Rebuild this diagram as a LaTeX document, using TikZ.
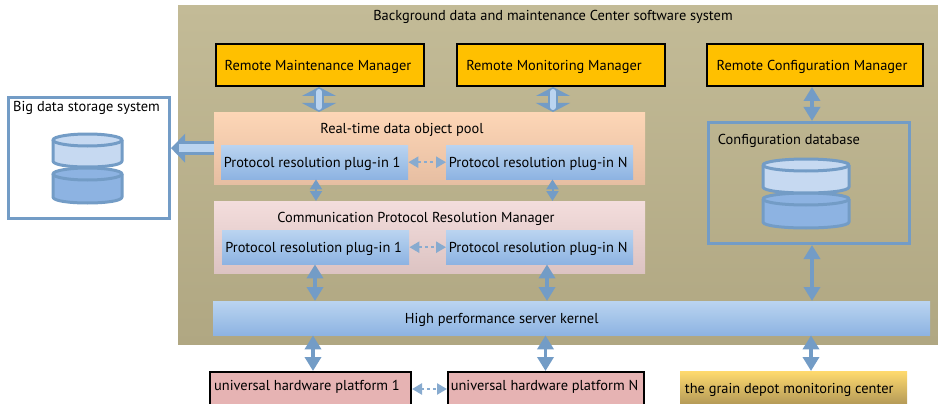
\documentclass[tikz,border=0pt]{standalone}
\usepackage{fontspec}
\setmainfont{PT Sans}
\usetikzlibrary{arrows.meta}
\definecolor{linkblue}{HTML}{739CC6}
\definecolor{diskpale}{HTML}{C6D9F1}
\definecolor{diskdark}{HTML}{8DB3E2}
\definecolor{plugtop}{HTML}{BAD4F0}
\definecolor{hwpink}{HTML}{E6B3B3}
\definecolor{mgrgold}{HTML}{FFC000}
\definecolor{bgtop}{HTML}{C3BB97}
\definecolor{bgbot}{HTML}{B0A782}
\definecolor{poolA}{HTML}{FDD6B6}
\definecolor{poolB}{HTML}{E6BEA2}
\definecolor{commA}{HTML}{F3DDDC}
\definecolor{commB}{HTML}{DCC3C2}
\definecolor{grainA}{HTML}{FFDA6E}
\definecolor{grainB}{HTML}{B49A58}
\tikzset{
  plugbox/.style={anchor=north west,minimum width=187pt,minimum height=34pt,inner sep=0pt,text height=14pt,text depth=3pt,top color=plugtop,bottom color=diskdark},
  mgrbox/.style={anchor=north west,draw=black,line width=2pt,fill=mgrgold,minimum height=42pt,inner sep=0pt,text height=14pt,text depth=3pt},
  hwbox/.style={anchor=north west,draw=black,line width=2pt,fill=hwpink,minimum height=34pt,inner sep=0pt,text height=10pt,text depth=7pt},
  framebox/.style={anchor=north west,draw=linkblue,line width=3pt,inner sep=0pt},
  lbl/.style={inner sep=0pt},
  widearrow/.style={draw=linkblue,line width=10pt,{Triangle[length=9pt,width=34pt]}-{Triangle[length=9pt,width=34pt]}},
  widecore/.style={draw=plugtop,line width=6pt,line cap=round,shorten <=5pt,shorten >=5pt},
  bigarrow/.style={draw=linkblue,line width=3.5pt,{Triangle[length=14pt,width=16pt]}-{Triangle[length=14pt,width=16pt]}},
  smallarrow/.style={draw=linkblue,line width=2pt,{Triangle[length=10pt,width=12pt]}-{Triangle[length=10pt,width=12pt]}},
  dotarrow/.style={draw=linkblue!85!white,line width=2.5pt,dash pattern=on 3pt off 3pt,{Triangle[length=10pt,width=11pt]}-{Triangle[length=10pt,width=11pt]}},
  disk/.style={draw=linkblue,line width=3pt,line join=round},
}
\begin{document}
\begin{tikzpicture}[x=1pt,y=-1pt,font=\fontsize{14.4}{16}\selectfont]
\useasboundingbox (0,0) rectangle (938,404);

% Center background
\node[anchor=north west,inner sep=0pt,minimum width=760pt,minimum height=339pt,top color=bgtop,bottom color=bgbot] (center) at (178,5) {};
\node[lbl] (centertitle) at (553,17) {Background data and maintenance Center software system};

% Managers
\node[mgrbox,minimum width=208pt] (mgrA) at (215,43) {\hspace{-4pt}Remote Maintenance Manager};
\node[mgrbox,minimum width=208pt] (mgrB) at (456,43) {\hspace{-14pt}Remote Monitoring Manager};
\node[mgrbox,minimum width=216pt] (mgrC) at (706,43) {\hspace{-6pt}Remote Configuration Manager};

% Object pool
\node[anchor=north west,inner sep=0pt,minimum width=431pt,minimum height=72pt,top color=poolA,bottom color=poolB] (pool) at (214,112) {};
\node[lbl] (pooltitle) at (402,130) {Real-time data object pool};
\node[plugbox] (plugA) at (221,145) {\hspace{-5pt}Protocol resolution plug-in 1};
\node[plugbox] (plugN) at (446,145) {\hspace{-3pt}Protocol resolution plug-in N};

% Resolution manager
\node[anchor=north west,inner sep=0pt,minimum width=431pt,minimum height=72pt,top color=commA,bottom color=commB] (comm) at (214,201) {};
\node[lbl] (commtitle) at (416,219) {Communication Protocol Resolution Manager};
\node[plugbox] (resA) at (222,230) {\hspace{-4pt}Protocol resolution plug-in 1};
\node[plugbox] (resN) at (446,230) {\hspace{-3pt}Protocol resolution plug-in N};

% Kernel
\node[plugbox,minimum width=717pt] (kernel) at (213,301) {\hspace{-140pt}High performance server kernel};

% Hardware and grain depot
\node[hwbox,minimum width=201pt] (hwA) at (209,371) {\hspace{-7pt}universal hardware platform 1};
\node[hwbox,minimum width=196pt] (hwN) at (447,371) {\hspace{-3pt}universal hardware platform N};
\node[anchor=north west,inner sep=0pt,minimum width=227pt,minimum height=33pt,text height=14pt,text depth=3pt,top color=grainA,bottom color=grainB] (grain) at (680,371) {\hspace{-9pt}the grain depot monitoring center};

% Big data storage
\node[framebox,fill=white,minimum width=161pt,minimum height=121pt] (bigdata) at (7,96) {};
\node[lbl] (bigtitle) at (86.5,108) {Big data storage system};
\draw[disk,fill=diskdark] (53,174) -- (53,197) .. controls (53,201) and (70,203) .. (87.5,203) .. controls (105,203) and (122,201) .. (122,197) -- (122,174);
\draw[disk,fill=diskdark] (87.5,174) ellipse (34.5pt and 6pt);
\draw[disk,fill=diskpale] (53,140) -- (53,161) .. controls (53,165) and (70,167) .. (87.5,167) .. controls (105,167) and (122,165) .. (122,161) -- (122,140);
\draw[disk,fill=diskpale] (87.5,140) ellipse (34.5pt and 6pt);

% Configuration database
\node[framebox,minimum width=201pt,minimum height=121pt] (config) at (707,121) {};
\node[lbl] (configtitle) at (789,141) {Configuration database};
\draw[disk,fill=diskdark] (763,199) -- (763,222) .. controls (763,226) and (785,228) .. (806,228) .. controls (827,228) and (849,226) .. (849,222) -- (849,199);
\draw[disk,fill=diskdark] (806,199) ellipse (43pt and 6pt);
\draw[disk,fill=diskpale] (763,165) -- (763,187) .. controls (763,191) and (785,193) .. (806,193) .. controls (827,193) and (849,191) .. (849,187) -- (849,165);
\draw[disk,fill=diskpale] (806,165) ellipse (43pt and 6pt);

% Connectors
\draw[widearrow] (319,0 |- mgrA.south) -- (319,0 |- pool.north);
\draw[widecore] (319,0 |- mgrA.south) -- (319,0 |- pool.north);
\draw[widearrow] (553,0 |- mgrB.south) -- (553,0 |- pool.north);
\draw[widecore] (553,0 |- mgrB.south) -- (553,0 |- pool.north);
\draw[bigarrow] (812,0 |- mgrC.south) -- (812,0 |- config.north);
\draw[draw=linkblue,line width=14pt,-{Triangle[length=14pt,width=28pt]}] (pool.west) -- (bigdata.east |- pool.west);
\draw[draw=plugtop,line width=8pt,shorten >=8pt] (pool.west) -- (bigdata.east |- pool.west);
\draw[dotarrow] (plugA.east) -- (plugN.west);
\draw[dotarrow] (resA.east) -- (resN.west);
\draw[smallarrow] (316,0 |- plugA.south) -- (316,0 |- comm.north);
\draw[smallarrow] (552.5,0 |- plugN.south) -- (552.5,0 |- comm.north);
\draw[bigarrow] (315,0 |- resA.south) -- (315,0 |- kernel.north);
\draw[bigarrow] (547,0 |- resN.south) -- (547,0 |- kernel.north);
\draw[bigarrow] (812,0 |- config.south) -- (812,0 |- kernel.north);
\draw[bigarrow] (313,0 |- kernel.south) -- (313,0 |- hwA.north);
\draw[bigarrow] (545.5,0 |- kernel.south) -- (545.5,0 |- hwN.north);
\draw[bigarrow] (811,0 |- kernel.south) -- (811,0 |- grain.north);
\draw[dotarrow] (hwA.east) -- (hwN.west);
\end{tikzpicture}
\end{document}
